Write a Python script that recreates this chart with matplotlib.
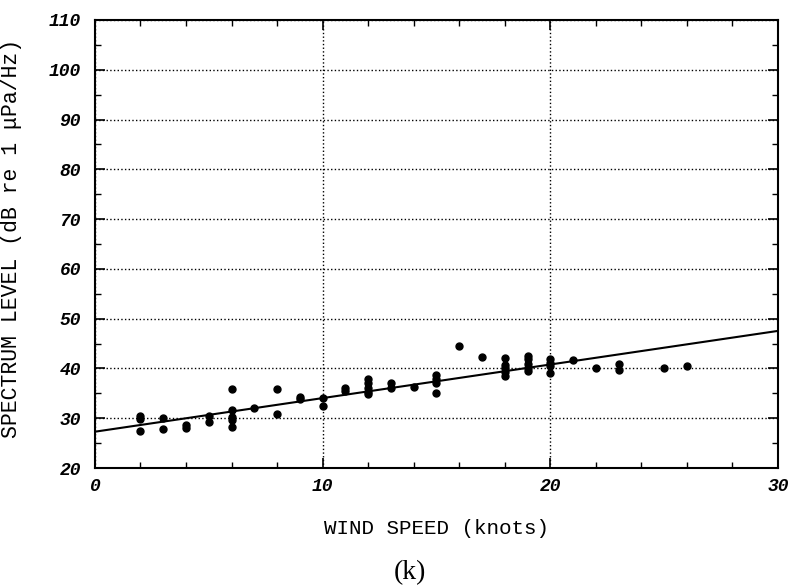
import matplotlib.pyplot as plt
from matplotlib.ticker import MultipleLocator

# Velocidade do vento (nós) e nível espectral (dB)
wind_speed = [2, 2, 2, 3, 3, 4, 4, 5, 5, 6, 6, 6, 6, 6, 7, 8, 8, 9, 9, 10, 10,
              11, 11, 12, 12, 12, 12, 12, 13, 13, 14, 15, 15, 15, 15, 16, 17,
              18, 18, 18, 18, 18, 19, 19, 19, 19, 19, 20, 20, 20, 20, 21,
              22, 23, 23, 25, 26]
spectrum_level = [30.5, 29.9, 27.5, 30.1, 27.9, 28.6, 28.1, 30.4, 29.3, 35.8,
                  31.6, 30.3, 29.6, 28.3, 32.0, 35.8, 30.9, 34.3, 33.9, 34.0,
                  32.4, 36.1, 35.4, 37.8, 37.0, 36.0, 35.3, 34.8, 37.0, 36.1,
                  36.3, 38.7, 37.8, 37.1, 35.0, 44.6, 42.4, 42.2, 40.6, 40.0,
                  39.3, 38.4, 42.6, 42.0, 41.0, 40.0, 39.4, 42.0, 41.2, 40.5,
                  39.1, 41.8, 40.1, 40.9, 39.7, 40.1, 40.4]

# Reta de regressão
fit_intercept = 27.3
fit_slope = 0.675

fig = plt.figure(figsize=(7.91, 5.88), dpi=100)
ax = fig.add_axes([0.12, 0.204, 0.8636, 0.762])

ax.plot(wind_speed, spectrum_level, 'o', color='black', markersize=5)
x_line = [0, 30]
ax.plot(x_line, [fit_intercept + fit_slope * x for x in x_line], color='black', linewidth=1.5)

ax.set_xlim(0, 30)
ax.set_ylim(20, 110)
ax.xaxis.set_major_locator(MultipleLocator(10))
ax.xaxis.set_minor_locator(MultipleLocator(2))
ax.yaxis.set_major_locator(MultipleLocator(10))
ax.yaxis.set_minor_locator(MultipleLocator(5))
ax.tick_params(which='both', direction='in', top=True, right=True)
ax.tick_params(which='major', length=7, width=1.2)
ax.tick_params(which='minor', length=4, width=1.0)
ax.tick_params(axis='y', which='major', pad=10)
ax.tick_params(axis='x', which='major', pad=7)
ax.grid(True, which='major', linestyle=':', color='black', linewidth=1.0)
for s in ax.spines.values():
    s.set_linewidth(1.5)

mono = 'Liberation Mono'
for lbl in ax.get_xticklabels() + ax.get_yticklabels():
    lbl.set_family(mono)
    lbl.set_fontsize(13)
    lbl.set_fontweight('bold')
    lbl.set_fontstyle('italic')

xl = ax.set_xlabel('WIND SPEED (knots)', family=mono, fontsize=15)
yl = ax.set_ylabel('SPECTRUM LEVEL (dB re 1 \u03bcPa/Hz)', family=mono, fontsize=15.5)
ax.xaxis.set_label_coords(0.5, -0.134)
xl.set_va('center')
ax.yaxis.set_label_coords(-0.122, 0.513)
yl.set_va('center')
fig.text(0.518, 0.027, '(k)', family='Liberation Serif', fontsize=20, ha='center', va='center')

plt.savefig('out.png', dpi=100)
